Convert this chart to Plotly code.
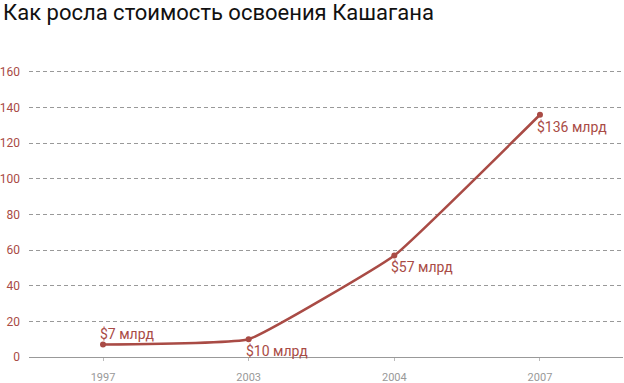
import plotly.graph_objects as go

years = ["1997", "2003", "2004", "2007"]
values = [7, 10, 57, 136]
labels = ["$7 млрд", "$10 млрд", "$57 млрд", "$136 млрд"]
label_above = [True, False, False, False]
y_ticks = [0, 20, 40, 60, 80, 100, 120, 140, 160]

red = "#a94b45"
xs = list(range(len(years)))

fig = go.Figure()
fig.add_trace(go.Scatter(
    x=xs, y=values, mode="lines+markers",
    line=dict(color=red, width=2.5, shape="spline", smoothing=0.3),
    marker=dict(color=red, size=6),
    cliponaxis=False, hoverinfo="skip",
))

for x, v, t, above in zip(xs, values, labels, label_above):
    fig.add_annotation(
        x=x, y=v, text=t, showarrow=False,
        xanchor="left", yanchor="bottom" if above else "top",
        xshift=-5, yshift=1 if above else -2,
        font=dict(family="Roboto", size=14, color=red),
    )

fig.update_layout(
    width=624, height=383,
    margin=dict(l=29, r=1, t=67, b=26, autoexpand=False),
    paper_bgcolor="white", plot_bgcolor="white",
    showlegend=False,
    title=dict(text="Как росла стоимость освоения Кашагана",
               font=dict(family="Roboto", size=22, color="#111"),
               x=0.005, xanchor="left", xref="container",
               y=0.967, yanchor="middle", yref="container",
               pad=dict(l=0, r=0, t=0, b=0)),
    font=dict(family="Roboto"),
)
fig.update_xaxes(
    range=[-0.508, 3.57], tickvals=xs, ticktext=years,
    showgrid=False, zeroline=False, automargin=False,
    showline=True, linecolor="#999", linewidth=1,
    ticks="outside", ticklen=3, tickcolor="#bbb",
    tickfont=dict(family="Roboto", size=11, color="#999"),
    ticklabelstandoff=7,
)
fig.update_yaxes(
    range=[0, 162.8], tickvals=y_ticks, automargin=False,
    showgrid=True, gridcolor="#999", griddash="4px,3px", gridwidth=1,
    zeroline=False, showline=False,
    tickfont=dict(family="Roboto", size=12, color=red),
    ticklabelstandoff=8,
)
fig.write_html("out.html", config={"displayModeBar": False},
               post_script="document.body.style.margin='0';document.body.style.overflow='hidden';")
